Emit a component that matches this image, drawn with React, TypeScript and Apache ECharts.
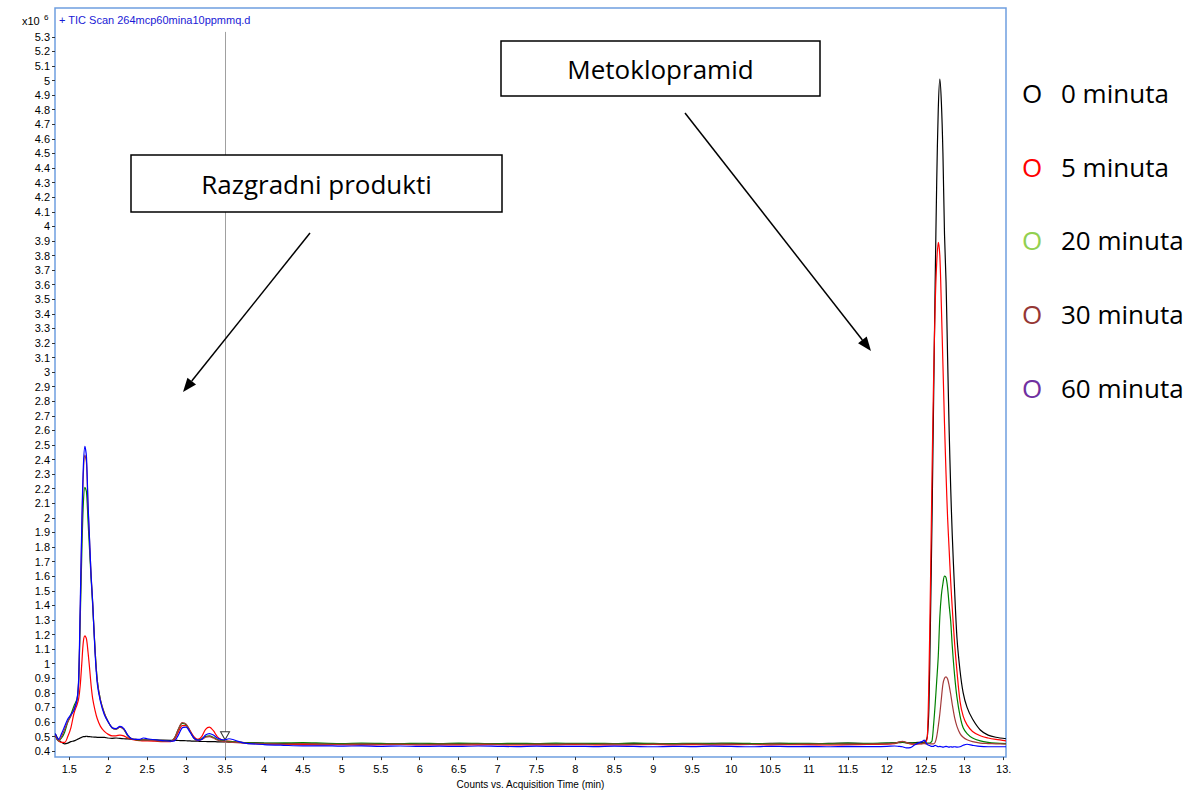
import React, { useEffect, useRef } from "react";
import * as echarts from "echarts";

// Retention time (min)
const time = [
  // early region
  1.32, 1.36, 1.40, 1.44, 1.48, 1.52, 1.56, 1.60, 1.62, 1.64, 1.66, 1.68, 1.70, 1.72, 1.74, 1.76, 1.78, 1.80, 1.83, 1.86, 1.90, 1.95, 2.00, 2.05, 2.10, 2.15, 2.20, 2.25, 2.30, 2.35, 2.40,
  // small peaks
  2.45, 2.5, 2.6, 2.7, 2.8, 2.85, 2.9, 2.95, 3.0, 3.05, 3.1, 3.15, 3.2, 3.25, 3.3, 3.35, 3.4, 3.45, 3.5, 3.55, 3.6, 3.7,
  // baseline
  3.8, 4.0, 4.25, 4.5, 4.75, 5.0, 5.25, 5.5, 5.75, 6.0, 6.25, 6.5, 6.75, 7.0, 7.25, 7.5, 7.75, 8.0, 8.25, 8.5, 8.75, 9.0, 9.25, 9.5, 9.75, 10.0, 10.25, 10.5, 10.75, 11.0, 11.25, 11.5, 11.75, 12.0, 12.1, 12.15, 12.2, 12.25, 12.3, 12.35, 12.4,
  // main peak
  12.45, 12.48, 12.5, 12.52, 12.54, 12.56, 12.58, 12.6, 12.62, 12.64, 12.66, 12.68, 12.7, 12.72, 12.74, 12.76, 12.78, 12.8, 12.82, 12.84, 12.87, 12.9, 12.94, 12.98, 13.03, 13.1, 13.2, 13.3, 13.4, 13.53,
];

// Counts (x10^6)
const min0 = [
  0.52, 0.48, 0.46, 0.45, 0.455, 0.465, 0.47, 0.48, 0.485, 0.49, 0.495, 0.5, 0.5, 0.502, 0.5, 0.5, 0.498, 0.497, 0.496, 0.495, 0.495, 0.494, 0.49, 0.488, 0.49, 0.487, 0.485, 0.484, 0.482, 0.48, 0.478,
  0.476, 0.475, 0.477, 0.475, 0.474, 0.474, 0.473, 0.472, 0.471, 0.47, 0.468, 0.468, 0.466, 0.466, 0.465, 0.465, 0.464, 0.464, 0.463, 0.462, 0.461, 0.46,
  0.458, 0.455, 0.452, 0.45, 0.449, 0.45, 0.448, 0.449, 0.451, 0.449, 0.448, 0.45, 0.452, 0.449, 0.45, 0.451, 0.449, 0.452, 0.45, 0.451, 0.453, 0.45, 0.452, 0.451, 0.453, 0.452, 0.45, 0.453, 0.452, 0.451, 0.453, 0.455, 0.452, 0.455, 0.457, 0.458, 0.46, 0.458, 0.456, 0.458, 0.46,
  0.46, 0.462, 0.47, 0.5, 0.7, 1.3, 2.0, 2.8, 3.6, 4.3, 4.8, 5.01, 4.85, 4.5, 3.95, 3.62, 3.1, 2.6, 2.2, 1.88, 1.5, 1.18, 0.95, 0.8, 0.7, 0.62, 0.545, 0.51, 0.495, 0.485,
];
const min5 = [
  0.5, 0.47, 0.46, 0.46, 0.5, 0.56, 0.66, 0.72, 0.76, 0.85, 1.0, 1.15, 1.19, 1.17, 1.08, 0.97, 0.85, 0.76, 0.68, 0.62, 0.57, 0.535, 0.515, 0.505, 0.505, 0.51, 0.505, 0.49, 0.48, 0.475, 0.472,
  0.47, 0.47, 0.468, 0.465, 0.465, 0.48, 0.53, 0.575, 0.575, 0.54, 0.5, 0.48, 0.5, 0.55, 0.565, 0.54, 0.5, 0.48, 0.47, 0.468, 0.465, 0.46,
  0.455, 0.45, 0.447, 0.445, 0.443, 0.445, 0.442, 0.444, 0.446, 0.443, 0.442, 0.444, 0.443, 0.445, 0.442, 0.444, 0.443, 0.445, 0.443, 0.442, 0.444, 0.446, 0.443, 0.445, 0.443, 0.444, 0.446, 0.443, 0.445, 0.444, 0.442, 0.444, 0.446, 0.448, 0.452, 0.46, 0.465, 0.458, 0.45, 0.448, 0.45,
  0.452, 0.458, 0.46, 0.5, 0.9, 1.55, 2.3, 2.95, 3.45, 3.75, 3.89, 3.8, 3.45, 3.05, 2.65, 2.3, 2.0, 1.78, 1.56, 1.38, 1.14, 0.95, 0.74, 0.64, 0.58, 0.535, 0.505, 0.49, 0.48, 0.47,
];
const min20 = [
  0.51, 0.47, 0.49, 0.53, 0.6, 0.65, 0.71, 0.76, 0.88, 1.3, 1.75, 2.1, 2.21, 2.18, 1.98, 1.78, 1.58, 1.4, 1.1, 0.88, 0.75, 0.66, 0.6, 0.56, 0.55, 0.565, 0.55, 0.505, 0.485, 0.478, 0.476,
  0.478, 0.476, 0.474, 0.47, 0.468, 0.49, 0.55, 0.59, 0.58, 0.535, 0.49, 0.475, 0.485, 0.5, 0.505, 0.495, 0.48, 0.472, 0.468, 0.466, 0.464, 0.46,
  0.456, 0.455, 0.456, 0.458, 0.455, 0.452, 0.455, 0.453, 0.451, 0.454, 0.452, 0.455, 0.453, 0.451, 0.454, 0.452, 0.455, 0.453, 0.454, 0.452, 0.455, 0.453, 0.451, 0.454, 0.452, 0.455, 0.453, 0.452, 0.454, 0.453, 0.452, 0.455, 0.453, 0.455, 0.456, 0.46, 0.462, 0.458, 0.455, 0.456, 0.455,
  0.455, 0.455, 0.455, 0.455, 0.455, 0.458, 0.47, 0.58, 0.72, 0.88, 1.05, 1.32, 1.47, 1.55, 1.6, 1.59, 1.52, 1.4, 1.29, 1.12, 0.92, 0.77, 0.64, 0.56, 0.52, 0.49, 0.47, 0.46, 0.455, 0.452,
];
const min30 = [
  0.51, 0.47, 0.5, 0.55, 0.6, 0.64, 0.69, 0.75, 0.88, 1.35, 1.9, 2.3, 2.43, 2.38, 2.08, 1.84, 1.6, 1.42, 1.1, 0.88, 0.75, 0.66, 0.6, 0.56, 0.55, 0.565, 0.55, 0.51, 0.485, 0.48, 0.478,
  0.476, 0.475, 0.472, 0.468, 0.466, 0.49, 0.55, 0.595, 0.585, 0.54, 0.49, 0.472, 0.48, 0.495, 0.5, 0.49, 0.476, 0.468, 0.465, 0.462, 0.46, 0.456,
  0.452, 0.45, 0.449, 0.451, 0.448, 0.447, 0.449, 0.447, 0.448, 0.446, 0.448, 0.447, 0.449, 0.447, 0.446, 0.448, 0.447, 0.449, 0.447, 0.448, 0.446, 0.448, 0.447, 0.449, 0.447, 0.448, 0.446, 0.448, 0.447, 0.449, 0.447, 0.448, 0.449, 0.45, 0.455, 0.462, 0.467, 0.46, 0.452, 0.45, 0.45,
  0.45, 0.452, 0.45, 0.45, 0.451, 0.45, 0.45, 0.45, 0.46, 0.5, 0.57, 0.655, 0.76, 0.86, 0.9, 0.91, 0.895, 0.85, 0.79, 0.72, 0.63, 0.57, 0.52, 0.495, 0.478, 0.465, 0.455, 0.452, 0.45, 0.448,
];
const min60 = [
  0.52, 0.48, 0.52, 0.57, 0.62, 0.65, 0.68, 0.76, 0.9, 1.4, 1.95, 2.35, 2.49, 2.42, 2.1, 1.85, 1.6, 1.42, 1.08, 0.86, 0.74, 0.65, 0.6, 0.56, 0.555, 0.57, 0.555, 0.51, 0.485, 0.48, 0.48,
  0.49, 0.485, 0.478, 0.472, 0.468, 0.47, 0.51, 0.56, 0.565, 0.53, 0.49, 0.475, 0.48, 0.51, 0.52, 0.51, 0.49, 0.48, 0.478, 0.485, 0.48, 0.462,
  0.452, 0.445, 0.44, 0.436, 0.437, 0.434, 0.436, 0.433, 0.435, 0.432, 0.434, 0.432, 0.435, 0.433, 0.431, 0.434, 0.432, 0.433, 0.431, 0.434, 0.432, 0.43, 0.433, 0.431, 0.434, 0.432, 0.43, 0.433, 0.431, 0.432, 0.43, 0.432, 0.431, 0.433, 0.435, 0.433, 0.43, 0.422, 0.424, 0.44, 0.455,
  0.465, 0.475, 0.46, 0.445, 0.44, 0.435, 0.432, 0.433, 0.44, 0.435, 0.43, 0.432, 0.43, 0.428, 0.43, 0.433, 0.43, 0.428, 0.43, 0.428, 0.43, 0.428, 0.43, 0.44, 0.447, 0.44, 0.432, 0.43, 0.43, 0.43,
];

const seriesNames = ["0 minuta", "5 minuta", "20 minuta", "30 minuta", "60 minuta"];
const lineColors = ["#000000", "#ff0000", "#008000", "#a33a3a", "#0000ff"];
const legendColors = ["#000000", "#ff0000", "#92d050", "#953735", "#7030a0"];

const yTicks = [
  0.4, 0.5, 0.6, 0.7, 0.8, 0.9, 1, 1.1, 1.2, 1.3, 1.4, 1.5, 1.6, 1.7, 1.8, 1.9, 2, 2.1, 2.2, 2.3, 2.4, 2.5, 2.6, 2.7, 2.8, 2.9,
  3, 3.1, 3.2, 3.3, 3.4, 3.5, 3.6, 3.7, 3.8, 3.9, 4, 4.1, 4.2, 4.3, 4.4, 4.5, 4.6, 4.7, 4.8, 4.9, 5, 5.1, 5.2, 5.3,
];
const xTicks = [1.5, 2, 2.5, 3, 3.5, 4, 4.5, 5, 5.5, 6, 6.5, 7, 7.5, 8, 8.5, 9, 9.5, 10, 10.5, 11, 11.5, 12, 12.5, 13, 13.5];
const xTickText = ["1.5", "2", "2.5", "3", "3.5", "4", "4.5", "5", "5.5", "6", "6.5", "7", "7.5", "8", "8.5", "9", "9.5", "10", "10.5", "11", "11.5", "12", "12.5", "13", "13."];

const cursorTime = 3.5;
const cursorMarkerValue = 0.505;
const xMin = 1.316;
const xMax = 13.53;
const yMin = 0.359;
const yMax = 5.498;

const allValues = [min0, min5, min20, min30, min60];

const AXIS_FONT = "'Liberation Sans', Arial, sans-serif";
const NOTE_FONT = "'Open Sans', 'Noto Sans', sans-serif";

function arrow(x1: number, y1: number, x2: number, y2: number) {
  const dx = x2 - x1;
  const dy = y2 - y1;
  const L = Math.hypot(dx, dy);
  const ux = dx / L;
  const uy = dy / L;
  const hl = 14;
  const hw = 5.5;
  const bx = x2 - ux * hl;
  const by = y2 - uy * hl;
  return [
    { type: "line", z: 100, shape: { x1, y1, x2: bx, y2: by }, style: { stroke: "#000", lineWidth: 1.5 } },
    {
      type: "polygon",
      z: 100,
      shape: { points: [[x2, y2], [bx - uy * hw, by + ux * hw], [bx + uy * hw, by - ux * hw]] },
      style: { fill: "#000" },
    },
  ];
}

function box(x: number, y: number, w: number, h: number, label: string) {
  return [
    { type: "rect", z: 100, shape: { x, y, width: w, height: h }, style: { fill: "#fff", stroke: "#000", lineWidth: 1.5 } },
    {
      type: "text",
      z: 101,
      x: x + w / 2,
      y: y + h / 2,
      style: { text: label, fill: "#000", font: `26px ${NOTE_FONT}`, align: "center", verticalAlign: "middle" },
    },
  ];
}

export default function App() {
  const ref = useRef<HTMLDivElement>(null);

  useEffect(() => {
    if (!ref.current) return;
    const chart = echarts.init(ref.current, undefined, { renderer: "svg" });

    const series: any[] = allValues.map((vals, si) => {
      const s: any = {
        type: "line",
        name: seriesNames[si],
        data: time.map((t, i) => [t, vals[i]]).filter((p) => p[1] !== undefined),
        showSymbol: false,
        symbol: "none",
        smooth: 0.3,
        lineStyle: { color: lineColors[si], width: 1.2 },
        itemStyle: { color: lineColors[si] },
        z: 2 + si,
        silent: true,
      };
      if (si === 0) {
        s.markLine = {
          silent: true,
          symbol: ["none", "none"],
          label: { show: false },
          lineStyle: { color: "#a0a0a0", width: 1, type: "solid" },
          data: [[{ coord: [cursorTime, 5.334] }, { coord: [cursorTime, yMin] }]],
        };
        s.markPoint = {
          silent: true,
          symbol: "triangle",
          symbolRotate: 180,
          symbolSize: [9, 8],
          label: { show: false },
          itemStyle: { color: "#fff", borderColor: "#333", borderWidth: 1 },
          data: [{ coord: [cursorTime, cursorMarkerValue] }],
        };
      }
      return s;
    });

    const legendItems: any[] = [];
    const legendY = [93, 167, 240, 314, 388];
    seriesNames.forEach((n, i) => {
      legendItems.push({
        type: "text",
        x: 1022,
        y: legendY[i],
        style: { text: "O", fill: legendColors[i], font: `26px ${NOTE_FONT}`, verticalAlign: "middle" },
      });
      legendItems.push({
        type: "text",
        x: 1061,
        y: legendY[i],
        style: { text: n, fill: "#000", font: `26px ${NOTE_FONT}`, verticalAlign: "middle" },
      });
    });

    const option: any = {
      animation: false,
      backgroundColor: "#fff",
      grid: {
        left: 55,
        right: 196,
        top: 8,
        bottom: 34,
        show: true,
        borderColor: "#6f9fe0",
        borderWidth: 1.5,
        backgroundColor: "#fff",
      },
      xAxis: {
        type: "value",
        min: xMin,
        max: xMax,
        name: "Counts vs. Acquisition Time (min)",
        nameLocation: "middle",
        nameGap: 18,
        nameTextStyle: { fontSize: 10, color: "#000", fontFamily: AXIS_FONT },
        axisLine: { show: false },
        axisTick: { show: true, customValues: xTicks, length: 3, lineStyle: { color: "#333" } },
        axisLabel: {
          customValues: xTicks,
          formatter: (v: number) => {
            const idx = xTicks.findIndex((t) => Math.abs(t - v) < 1e-6);
            return idx >= 0 ? xTickText[idx] : "";
          },
          fontSize: 11,
          color: "#000",
          fontFamily: AXIS_FONT,
          margin: 6,
          hideOverlap: false,
        },
        splitLine: { show: false },
      },
      yAxis: {
        type: "value",
        min: yMin,
        max: yMax,
        axisLine: { show: false },
        axisTick: { show: true, customValues: yTicks, length: 3, lineStyle: { color: "#333" } },
        axisLabel: {
          customValues: yTicks,
          formatter: (v: number) => String(Math.round(v * 10) / 10),
          fontSize: 11,
          color: "#000",
          fontFamily: AXIS_FONT,
          margin: 5,
          hideOverlap: false,
        },
        splitLine: { show: false },
      },
      series,
      graphic: [
        {
          type: "text",
          x: 22,
          y: 21,
          style: { text: "x10", fill: "#000", font: `11px ${AXIS_FONT}`, verticalAlign: "middle" },
        },
        {
          type: "text",
          x: 44,
          y: 17,
          style: { text: "6", fill: "#000", font: `8px ${AXIS_FONT}`, verticalAlign: "middle" },
        },
        {
          type: "text",
          x: 59,
          y: 20,
          z: 50,
          style: { text: "+ TIC Scan 264mcp60mina10ppmmq.d", fill: "#1a1ad6", font: `11px ${AXIS_FONT}`, verticalAlign: "middle" },
        },
        ...box(131, 155, 371, 57, "Razgradni produkti"),
        ...box(501, 41, 319, 55, "Metoklopramid"),
        ...arrow(310, 233, 183, 392),
        ...arrow(685, 113, 871, 351),
        ...legendItems,
      ],
    };

    chart.setOption(option);
    return () => chart.dispose();
  }, []);

  return (
    <div
      ref={ref}
      style={{ position: "fixed", left: 0, top: 0, width: 1202, height: 794, background: "#fff" }}
    />
  );
}
